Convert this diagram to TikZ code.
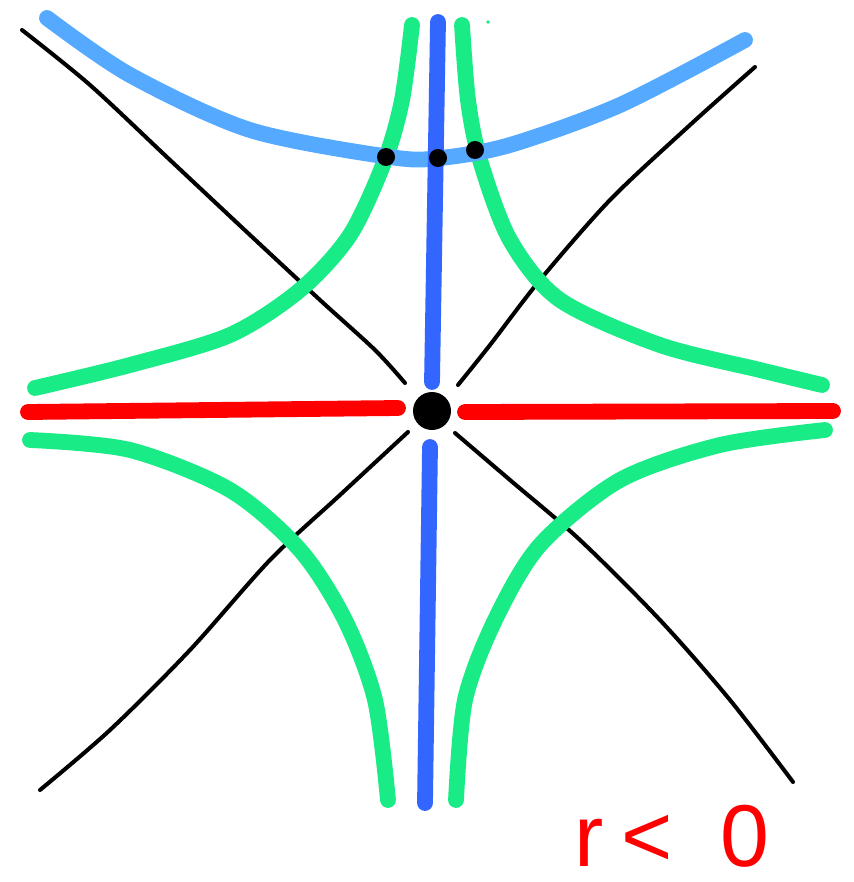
\documentclass[tikz,border=0pt]{standalone}
\usepackage{fontspec}
\setmainfont{Liberation Sans}
\definecolor{sketchgreen}{RGB}{25,235,135}
\definecolor{sketchlightblue}{RGB}{85,170,255}
\definecolor{sketchdarkblue}{RGB}{51,102,255}
\definecolor{sketchred}{RGB}{255,0,0}
\begin{document}
\begin{tikzpicture}[x=0.02cm,y=-0.02cm,
  thickstroke/.style={line width=9pt,line cap=round,line join=round},
  thinstroke/.style={line width=2.3pt,line cap=round,line join=round,black},
  lightblue/.style={thickstroke,draw=sketchlightblue},
  darkblue/.style={thickstroke,draw=sketchdarkblue},
  redline/.style={thickstroke,draw=sketchred},
  greenline/.style={thickstroke,draw=sketchgreen}]
\fill[white] (0,0) rectangle (854,882);
\useasboundingbox (0,0) rectangle (854,882);
% black thin lines
\draw[thinstroke] plot[smooth] coordinates {(22,30) (90,85) (170,160) (250,235) (320,300) (375,350) (405,383)};
\draw[thinstroke] plot[smooth] coordinates {(755,67) (690,125) (610,200) (540,280) (490,345) (458,385)};
\draw[thinstroke] plot[smooth] coordinates {(40,790) (110,730) (190,650) (270,560) (340,495) (408,432)};
\draw[thinstroke] plot[smooth] coordinates {(793,782) (730,700) (660,620) (580,540) (510,480) (455,433)};
% green curves
\draw[greenline] plot[smooth] coordinates {(412,25) (402,100) (385,160) (350,235) (300,290) (230,335) (130,365) (35,388)};
\draw[greenline] plot[smooth] coordinates {(462,25) (468,100) (480,160) (510,240) (560,300) (660,345) (760,370) (822,385)};
\draw[greenline] plot[smooth] coordinates {(30,440) (130,450) (230,490) (300,550) (345,620) (375,700) (388,800)};
\draw[greenline] plot[smooth] coordinates {(825,430) (720,445) (620,480) (540,545) (495,620) (465,700) (456,800)};
\fill[sketchgreen] (488,22) circle (1.8);
% light blue arc
\draw[lightblue] plot[smooth] coordinates {(47,18) (130,75) (250,130) (390,157) (440,158) (510,145) (620,105) (745,40)};
% dark blue vertical
\draw[darkblue] (438,22) -- (432,382);
\draw[darkblue] (430,447) -- (425,803);
% red horizontal
\draw[redline] (28,412) -- (398,408);
\draw[redline] (465,412) -- (833,411);
% dots
\node[circle,fill=black,inner sep=0pt,minimum size=38*0.02cm] (center) at (432,411) {};
\node[circle,fill=black,inner sep=0pt,minimum size=18*0.02cm] (d1) at (386,157) {};
\node[circle,fill=black,inner sep=0pt,minimum size=18*0.02cm] (d2) at (438,158) {};
\node[circle,fill=black,inner sep=0pt,minimum size=18*0.02cm] (d3) at (475,150) {};
% label
\node[text=sketchred,font=\fontsize{50}{52}\selectfont,anchor=base,inner sep=0pt] (label) at (672,866) {r\hspace{0.2em}<\hspace{0.55em}0};
\end{tikzpicture}
\end{document}
